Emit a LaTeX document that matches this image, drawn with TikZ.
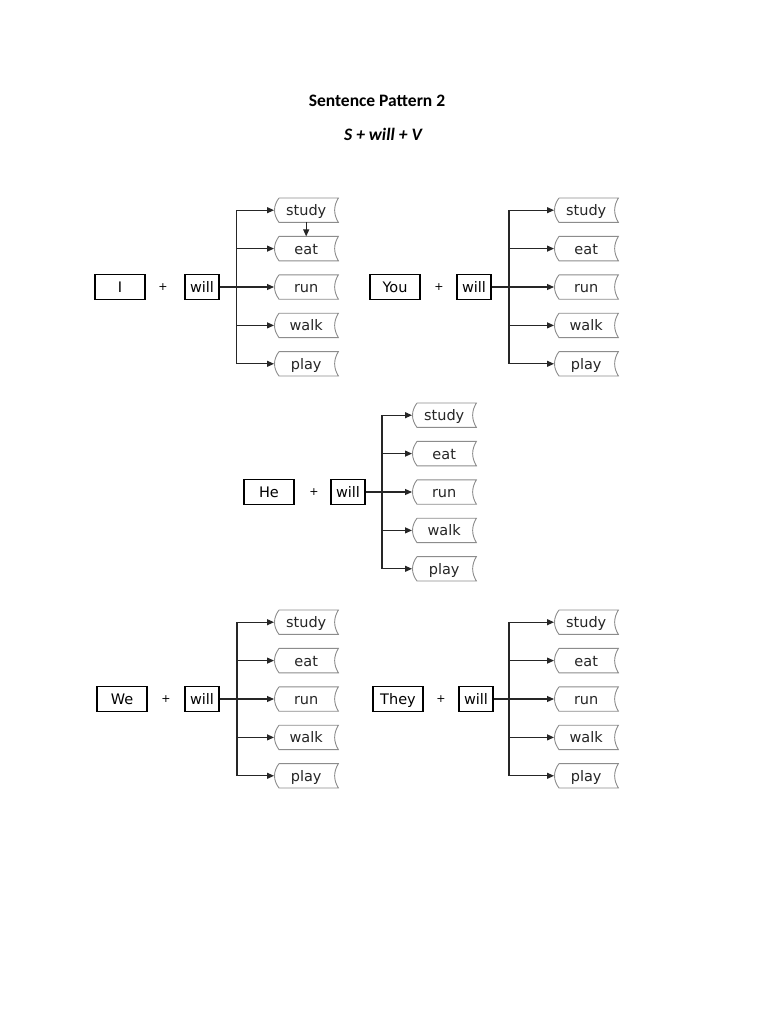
\documentclass[tikz,border=0pt]{standalone}
\usepackage{fontspec}
\setmainfont{DejaVu Sans}
\newfontfamily\titlefont{Carlito}
\usetikzlibrary{arrows.meta,calc}
\tikzset{
  wordfont/.style={font=\fontsize{14.5}{16}\selectfont, text height=12.5pt, text depth=1.5pt},
  subjbox/.style={wordfont, draw=black, line width=1.1pt, minimum width=50pt, minimum height=25pt, inner sep=0pt},
  willbox/.style={wordfont, draw=black, line width=1.1pt, minimum width=34pt, minimum height=25pt, inner sep=0pt},
  verbshape/.style={wordfont, minimum width=64pt, minimum height=24pt, inner sep=0pt, anchor=west, text=black!85},
  verbline/.style={draw=black!45, line width=0.9pt},
  conn/.style={draw=black!85, line width=1.1pt},
  arr/.style={conn, -{Triangle[length=7pt,width=6pt]}},
  plussign/.style={font=\fontsize{11}{12}\selectfont},
  titletext/.style={font=\titlefont\bfseries\fontsize{17.5}{20}\selectfont}
}
% #1 prefix, #2 subject, #3 subject x, #4 plus x, #5 will x, #6 bus x, #7 verb left x, #8 centre y
\newcommand\verbgroup[8]{%
  \node[subjbox] (#1-subj) at (#3,#8) {#2};
  \node[plussign] (#1-plus) at (#4,#8) {+};
  \node[willbox] (#1-will) at (#5,#8) {will};
  \foreach \w [count=\i] in {study,eat,run,walk,play} {
    \node[verbshape] (#1-v\i) at (#7,{#8+(\i-3)*38.4}) {\w};
    \coordinate (#1-b\i) at (#6,{#8+(\i-3)*38.4});
    \draw[verbline] ($(#1-v\i.north west)+(5,0)$) -- (#1-v\i.north east)
      .. controls +(-5,8) and +(-5,-8) .. (#1-v\i.south east)
      -- ($(#1-v\i.south west)+(5,0)$)
      .. controls +(-6,-8) and +(-6,8) .. ($(#1-v\i.north west)+(5,0)$);
  }
  \draw[conn] (#1-b1) -- (#1-b5);
  \draw[arr] (#1-b1) -- (#1-v1.west);
  \draw[arr] (#1-b2) -- (#1-v2.west);
  \draw[arr] (#1-will.east) -- (#1-v3.west);
  \draw[arr] (#1-b4) -- (#1-v4.west);
  \draw[arr] (#1-b5) -- (#1-v5.west);
}
\begin{document}
\begin{tikzpicture}[x=1pt,y=-1pt]
  \useasboundingbox (0,0) rectangle (768,1024);
  \fill[white] (0,0) rectangle (768,1024);
  \node[titletext] (title) at (377,101) {Sentence Pattern 2};
  \node[titletext, font=\titlefont\bfseries\itshape\fontsize{17.5}{20}\selectfont] (formula) at (383,134) {S + will + V};
  \verbgroup{g1}{I}{120}{163}{202}{236.5}{274}{287}
  \verbgroup{g2}{You}{395}{439}{474}{509}{554}{287}
  \verbgroup{g3}{He}{269}{314}{348}{382}{412}{492}
  \verbgroup{g4}{We}{122}{166}{202}{237}{274}{699}
  \verbgroup{g5}{They}{398}{441}{476}{509}{554}{699}
  \draw[arr] (g1-v1.south) -- (g1-v2.north);
\end{tikzpicture}
\end{document}
